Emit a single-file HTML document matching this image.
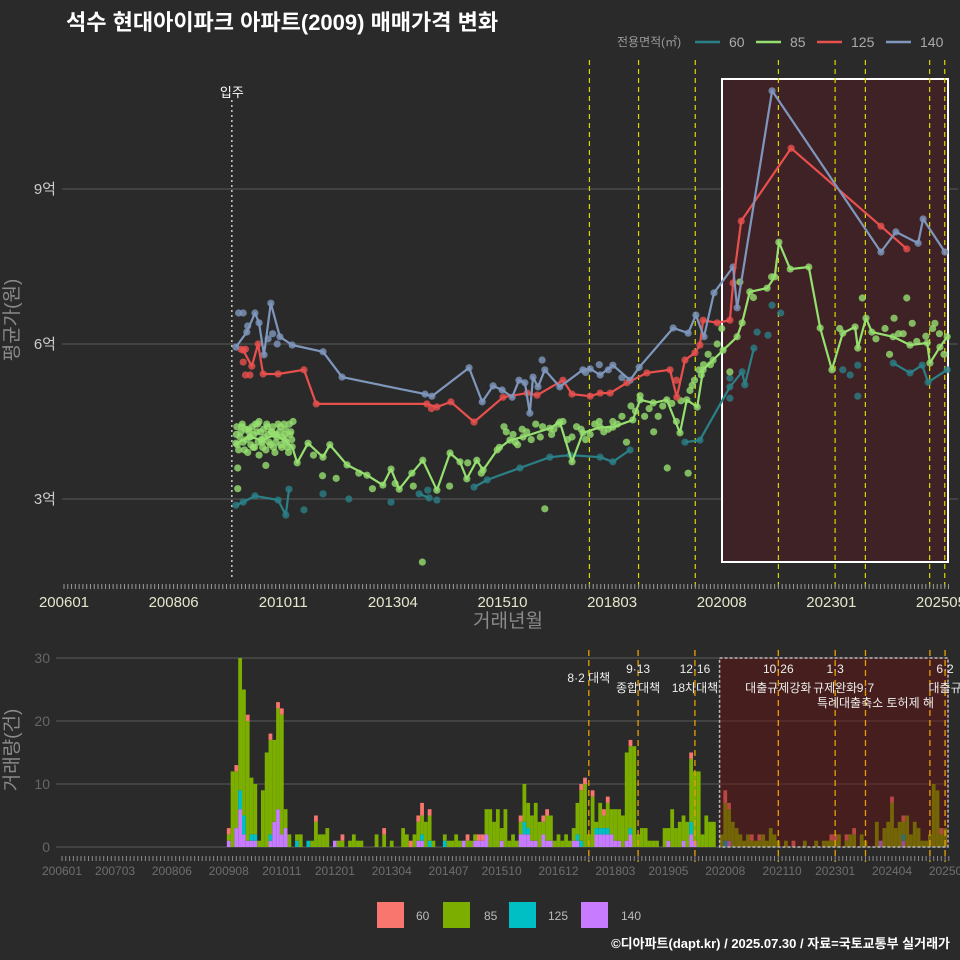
<!DOCTYPE html>
<html><head><meta charset="utf-8">
<style>
html,body{margin:0;padding:0;background:#2a2a2a;}
svg{display:block;font-family:"Liberation Sans","Noto Sans CJK KR",sans-serif;}
</style></head>
<body>
<svg id="c" width="960" height="960" viewBox="0 0 960 960">
<rect x="0" y="0" width="960" height="960" fill="#2a2a2a"/>
<text x="66" y="30" fill="#ffffff" font-size="22" font-weight="bold">석수 현대아이파크 아파트(2009) 매매가격 변화</text>
<g>
<text x="617" y="46" fill="#9a9a9a" font-size="12">전용면적(㎡)</text>
<line x1="695" y1="42" x2="720" y2="42" stroke="#2a8087" stroke-width="2.5"/>
<text x="729" y="47" fill="#aaaaaa" font-size="14">60</text>
<line x1="756" y1="42" x2="781" y2="42" stroke="#96e070" stroke-width="2.5"/>
<text x="790" y="47" fill="#aaaaaa" font-size="14">85</text>
<line x1="817" y1="42" x2="842" y2="42" stroke="#e8504e" stroke-width="2.5"/>
<text x="851" y="47" fill="#aaaaaa" font-size="14">125</text>
<line x1="886" y1="42" x2="911" y2="42" stroke="#7f97bd" stroke-width="2.5"/>
<text x="920" y="47" fill="#aaaaaa" font-size="14">140</text>
</g>
<g id="topG"></g>
<g id="botG"></g>
<g>
<rect x="377" y="902" width="27" height="26" fill="#f8766d"/>
<text x="416" y="920" fill="#bbbbbb" font-size="12">60</text>
<rect x="443" y="902" width="27" height="26" fill="#7cae00"/>
<text x="484" y="920" fill="#bbbbbb" font-size="12">85</text>
<rect x="509" y="902" width="27" height="26" fill="#00bfc4"/>
<text x="548" y="920" fill="#bbbbbb" font-size="12">125</text>
<rect x="581" y="902" width="27" height="26" fill="#c77cff"/>
<text x="621" y="920" fill="#bbbbbb" font-size="12">140</text>
</g>
<text x="950" y="948" text-anchor="end" fill="#ffffff" font-size="13" font-weight="bold">©디아파트(dapt.kr) / 2025.07.30 / 자료=국토교통부 실거래가</text>
</svg>
<script>
// ===== Top chart data (year decimal, price in 억) =====
const line140Years=[2009.79,2010.03,2010.21,2010.30,2010.41,2010.56,2010.76,2011.03,2011.71,2012.13,2013.96,2014.11,2014.93,2015.22,2015.46,2015.66,2015.88,2016.03,2016.16,2016.27,2016.34,2016.45,2016.60,2016.93,2017.44,2017.60,2017.82,2018.10,2018.48,2018.68,2019.43,2019.76,2019.93,2020.11,2020.33,2020.75,2020.84,2021.61,2024.01,2024.34,2024.83,2024.94,2025.42];
const line140Vals=[5.94,6.23,6.60,6.41,5.79,6.79,6.14,5.98,5.85,5.36,5.03,4.99,5.54,4.88,5.19,5.11,4.97,5.30,5.25,4.66,5.36,5.17,5.50,5.17,5.50,5.52,5.40,5.59,5.30,5.55,6.31,6.21,6.56,6.14,6.99,7.49,6.70,10.90,7.78,8.17,7.95,8.42,7.78];
const line125Years=[2009.95,2010.14,2010.28,2010.39,2010.72,2011.29,2011.56,2014.00,2014.22,2014.53,2015.04,2015.68,2016.21,2016.43,2017.00,2017.20,2017.60,2017.82,2018.04,2018.41,2018.85,2019.36,2019.51,2019.69,2019.91,2020.02,2020.09,2020.40,2020.68,2020.75,2020.93,2022.03,2024.01,2024.58];
const line125Vals=[5.88,5.57,6.00,5.42,5.42,5.50,4.84,4.84,4.78,4.88,4.49,4.97,5.05,5.01,5.30,5.03,4.99,5.05,5.05,5.25,5.44,5.50,4.97,5.69,5.83,5.98,6.46,6.41,6.46,7.18,8.38,9.79,8.28,7.84];
const line85Years=[2009.79,2010.10,2010.37,2010.65,2010.87,2011.03,2011.14,2011.38,2011.71,2011.86,2012.24,2012.68,2013.03,2013.21,2013.39,2013.67,2013.91,2014.22,2014.51,2014.73,2014.88,2015.10,2015.24,2015.55,2015.83,2016.12,2016.71,2016.93,2017.20,2017.44,2017.82,2018.10,2018.54,2018.70,2018.99,2019.29,2019.58,2019.73,2019.96,2020.09,2020.31,2020.53,2020.84,2020.95,2021.12,2021.50,2021.67,2021.76,2022.01,2022.42,2022.67,2022.93,2023.17,2023.44,2023.50,2023.68,2023.81,2024.28,2024.65,2025.03,2025.09,2025.31,2025.47];
const line85Vals=[4.08,4.20,4.14,4.24,4.14,4.01,3.70,4.08,3.81,4.05,3.66,3.46,3.27,3.58,3.19,3.50,3.75,3.17,3.89,3.72,3.39,3.75,3.56,3.95,4.14,4.20,4.37,4.49,3.72,4.28,4.39,4.39,4.53,4.92,4.86,4.92,4.28,4.92,4.78,5.50,5.69,5.88,6.14,6.41,7.01,7.08,7.30,7.97,7.45,7.49,6.31,5.50,6.21,6.33,5.92,6.50,6.23,6.14,5.98,6.02,5.63,5.94,6.14];
const line60Years=[2009.79,2009.95,2010.21,2010.72,2010.89,2010.96,null,2013.83,2014.05,null,2015.04,2015.33,2016.05,2016.71,2017.16,2017.82,2018.10,2018.48,null,2019.69,2020.02,2020.68,2020.95,2021.01,2021.21,null,2024.28,2024.65,2024.92,2025.05,2025.47];
const line60Vals=[2.88,2.94,3.06,2.98,2.69,3.19,null,3.10,3.02,null,3.23,3.37,3.60,3.81,3.85,3.81,3.72,3.95,null,4.10,4.14,5.17,5.46,5.21,5.92,null,5.63,5.44,5.59,5.26,5.50];
const extra85Years=[2009.80,2009.85,2009.90,2009.95,2010.00,2010.05,2010.10,2010.15,2010.20,2010.25,2010.30,2010.35,2010.40,2010.45,2010.50,2010.55,2010.60,2010.65,2010.70,2010.75,2010.80,2010.85,2010.90,2010.95,2011.00,2011.05,2010.30,2009.83,2009.83,2010.45,
2009.82,2009.88,2009.92,2009.98,2010.02,2010.08,2010.12,2010.18,2010.22,2010.28,2010.33,2010.38,2010.42,2010.48,2010.52,2010.58,2010.62,2010.68,2010.72,2010.78,2010.82,2010.88,2010.92,2010.98,2011.02,
2009.81,2009.93,2010.07,2010.17,2010.27,2010.37,2010.47,2010.57,2010.67,2010.77,2010.87,2010.97,
2011.50,2011.70,2012.00,2012.50,2012.80,2013.30,2013.90,2013.70,2014.50,2014.90,2015.20,2015.60,2015.70,2015.90,2016.00,2016.20,2016.40,2016.50,2016.60,2016.80,2017.00,2017.20,2017.30,2017.50,2017.70,2017.90,2018.10,2018.30,2018.40,2018.60,2018.70,2018.80,2019.00,2019.20,2019.30,2019.50,2019.60,2019.76,2019.80,2019.90,2020.00,2020.10,2020.20,2020.40,2020.50,2020.68,2020.90,2021.20,2021.60,2023.10,2023.60,2024.30,2024.50,2024.70,2024.20,2025.30,2025.40,2025.20,2024.58,
2015.75,2015.95,2016.10,2016.30,2016.55,2016.75,2016.90,2017.10,2017.40,2017.60,2017.80,2018.00,2018.20,2018.50,2018.90,2019.10,2019.40,2019.85,2020.05,2020.25,2023.90,2024.10,2024.40,2024.80,2025.00,2025.15];
const extra85Vals=[4.25,3.95,4.30,4.10,4.35,3.90,4.20,4.40,4.00,4.30,3.85,4.15,4.35,3.95,4.25,4.05,4.40,3.90,4.20,4.30,4.00,4.45,4.10,3.90,4.30,4.50,4.50,3.60,3.20,3.65,
4.05,4.20,4.40,3.95,4.15,4.30,4.05,4.25,4.45,4.10,4.30,4.00,4.20,4.40,4.10,4.30,4.00,4.25,4.45,4.05,4.20,4.35,4.00,4.25,4.15,
4.40,4.45,4.35,4.00,4.45,4.10,4.45,4.30,4.10,4.40,4.25,4.45,
3.85,3.45,3.40,3.50,3.20,3.30,1.78,3.25,3.25,3.70,3.50,4.00,4.40,4.25,4.05,4.30,4.45,4.20,2.81,4.35,4.50,4.20,4.40,4.15,4.45,4.30,4.50,4.60,4.10,4.70,5.00,4.60,4.30,4.80,3.60,4.50,4.90,3.50,5.10,5.30,5.50,5.60,5.80,6.00,6.30,5.46,7.20,6.90,7.30,6.30,6.89,6.50,6.20,6.40,5.80,6.20,5.80,6.40,6.89,
4.30,4.10,4.35,4.15,4.40,4.25,4.45,4.15,4.35,4.25,4.50,4.35,4.45,4.80,4.75,4.60,4.85,5.20,5.40,5.60,6.10,6.30,6.20,6.05,6.15,6.30];
const extra60Years=[2011.29,2011.71,2012.28,2013.21,2014.02,2014.22,2020.68,2020.68,2021.28,2021.52,2021.61,2021.80,2023.17,2023.33,2023.50,2023.50];
const extra60Vals=[2.79,3.10,3.00,2.94,3.17,2.98,4.95,5.34,6.23,6.17,6.75,6.60,5.50,5.40,5.59,4.99];
const extra140Years=[2009.85,2009.95,2010.05,2010.50,2010.70,2010.60,2016.54,2017.50,2017.80,2018.00,2018.30];
const extra140Vals=[6.60,6.60,6.35,6.10,6.00,6.20,5.69,5.45,5.60,5.50,5.35];
const extra125Years=[2009.90,2010.00,2009.95,2010.00,2010.10,2014.10,2019.50];
const extra125Vals=[5.90,5.90,5.65,5.40,5.40,4.75,5.30];
const yTicks=[3,6,9];
const yTickLabels=["3억","6억","9억"];
const xTickMonths=[0,29,58,87,116,145,174,203,232];
const xTickLabels=["200601","200806","201011","201304","201510","201803","202008","202301","202505"];
const policyMonths=[139,152,167,189,204,212,229,233];
const moveInMonth=44.4;

// ===== Bottom chart data =====
const volStartMonth=44; // 200909
const volTotal=[3,12,13,30,25,21,11,10,1,9,15,18,17,23,22,6,
2,0,2,2,0,1,1,5,2,2,3,0,1,1,2,0,1,2,1,1,0,0,0,2,0,3,0,1,0,0,3,2,1,2,5,7,4,6,1,0,0,2,1,1,2,1,1,2,1,2,1,1,6,6,4,6,3,6,1,2,1,5,10,7,5,7,4,5,6,5,1,
2,1,2,1,3,7,10,11,2,9,4,7,6,8,6,6,6,5,15,17,16,2,3,3,1,1,1,0,3,3,6,3,4,5,4,15,12,12,2,5,4,4,0,2,9,7,4,3,2,1,2,2,1,2,2,1,3,2,1,0,1,0,1,0,0,1,0,0,1,0,1,1,2,2,2,0,2,2,3,0,2,1,0,0,4,1,3,4,8,3,4,5,5,2,4,3,1,1,2,10,9,3,3];
const vol140Months=[44,46,47,48,49,50,51,55,56,57,58,59,72,94,95,106,109,110,111,112,116,121,122,123,124,125,127,128,129,135,136,141,142,143,144,145,146,147,149,150,160,164,166,167,176,216,222];
const vol140Counts=[1,3,6,2,1,1,1,1,4,6,2,3,1,1,1,1,1,1,1,2,1,2,2,2,1,1,2,1,1,1,1,2,2,2,2,2,1,1,1,2,1,1,2,1,1,1,1];
const vol125Months=[47,48,50,51,55,62,65,95,97,101,122,123,136,137,141,142,143,144,150,166,175,222];
const vol125Counts=[3,3,1,1,1,1,1,1,1,1,2,1,1,1,1,1,1,1,1,2,1,1];
const vol60Months=[44,46,49,55,57,58,67,74,85,92,94,95,97,107,110,111,121,127,128,137,138,140,143,144,150,166,175,176,182,184,193,203,204,207,209,219,222,232];
const vol60Counts=[1,1,1,1,1,1,1,1,1,1,1,2,1,1,1,1,1,1,1,1,1,1,1,1,1,1,2,1,1,1,1,1,1,1,1,1,1,1];
const bYTicks=[0,10,20,30];
const bXTickMonths=[0,14,29,44,58,72,87,102,116,131,146,160,175,190,204,219,234];
const bXTickLabels=["200601","200703","200806","200908","201011","201201","201304","201407","201510","201612","201803","201905","202008","202110","202301","202404","202506"];
const annoMonths=[139,152,167,189,204,212,233];
const annoTop=["","9·13","12·16","10·26","1·3","","6·2"];
const annoBottom=["8·2 대책","종합대책","18차대책","대출규제강화","규제완화","9·7","대출규"];

// ===== helpers =====
const NS="http://www.w3.org/2000/svg";
function mk(tag,attrs,parent){const e=document.createElementNS(NS,tag);for(const k in attrs)e.setAttribute(k,attrs[k]);parent.appendChild(e);return e;}
const xT=yr=>64+(yr-2006)*45.36;
const xTm=m=>64+m*3.78;
const yT=v=>344-(v-6)*51.67;
const xB=m=>62+m*3.79;
const yB=n=>847-n*6.3;
const topG=document.getElementById('topG');
const botG=document.getElementById('botG');
const COL={"60":"#2a8087","85":"#96e070","125":"#e8504e","140":"#7f97bd"};

// ---- top chart ----
let el;
el=mk('text',{x:18,y:320,fill:'#8a8a8a','font-size':19,'text-anchor':'middle',transform:'rotate(-90 18 320)'},topG);el.textContent='평균가(원)';


yTicks.forEach((v,i)=>{
  const g=mk('line',{x1:62,x2:958,y1:yT(v),y2:yT(v),stroke:'#5a5a5a','stroke-width':1},topG);
  
  
  const t=mk('text',{x:56,y:yT(v)+5,fill:'#cccccc','font-size':15,'text-anchor':'end'},topG);t.textContent=yTickLabels[i];
  
  
});
el=mk('rect',{x:722,y:79,width:226,height:483,fill:'#3e2226',stroke:'#ffffff','stroke-width':2},topG);


policyMonths.forEach(m=>{
  const l=mk('line',{x1:xTm(m),x2:xTm(m),y1:60,y2:590,stroke:'#d8d800','stroke-width':1.2,'stroke-dasharray':'5,4'},topG);
  
  
});
el=mk('line',{x1:xTm(moveInMonth),x2:xTm(moveInMonth),y1:100,y2:580,stroke:'#cccccc','stroke-width':1.5,'stroke-dasharray':'2,3'},topG);


el=mk('text',{x:xTm(moveInMonth),y:97,fill:'#ffffff','font-size':13,'text-anchor':'middle'},topG);el.textContent='입주';


for(let m=0;m<=234;m++){
  const t=mk('line',{x1:xTm(m),x2:xTm(m),y1:584,y2:589,stroke:'#9a9a9a','stroke-width':1},topG);
  
  
}
xTickMonths.forEach((m,i)=>{
  const t=mk('text',{x:xTm(m),y:607,fill:'#e6e6cc','font-size':15,'text-anchor':'middle'},topG);t.textContent=xTickLabels[i];
  
  
});
el=mk('text',{x:508,y:627,fill:'#8a8a8a','font-size':19,'text-anchor':'middle'},topG);el.textContent='거래년월';



function drawPts(ys,vs,col,name){
  ys.forEach((y,i)=>{ if(y===null)return;
    const c=mk('circle',{cx:xT(y),cy:yT(vs[i]),r:3.6,fill:col,'fill-opacity':0.8},topG);
    
    
  });
}
function drawLine(ys,vs,col,name){
  let d='',pen=false;
  ys.forEach((y,i)=>{ if(y===null){pen=false;return;} d+=(pen?'L':'M')+xT(y).toFixed(1)+' '+yT(vs[i]).toFixed(1)+' '; pen=true;});
  const p=mk('path',{d:d,fill:'none',stroke:col,'stroke-width':2.2,'stroke-linejoin':'round'},topG);
  
  
}
drawPts(extra60Years,extra60Vals,COL["60"],'point-60');
drawPts(extra85Years,extra85Vals,COL["85"],'point-85');
drawPts(line85Years,line85Vals,COL["85"],'point-85');
drawPts(line60Years,line60Vals,COL["60"],'point-60');
drawPts(extra125Years,extra125Vals,COL["125"],'point-125');
drawPts(line125Years,line125Vals,COL["125"],'point-125');
drawPts(extra140Years,extra140Vals,COL["140"],'point-140');
drawPts(line140Years,line140Vals,COL["140"],'point-140');
drawLine(line60Years,line60Vals,COL["60"],'line-60');
drawLine(line85Years,line85Vals,COL["85"],'line-85');
drawLine(line125Years,line125Vals,COL["125"],'line-125');
drawLine(line140Years,line140Vals,COL["140"],'line-140');

// ---- bottom chart ----
el=mk('text',{x:18,y:750,fill:'#8a8a8a','font-size':19,'text-anchor':'middle',transform:'rotate(-90 18 750)'},botG);el.textContent='거래량(건)';


bYTicks.forEach(v=>{
  const g=mk('line',{x1:56,x2:948,y1:yB(v),y2:yB(v),stroke:'#5a5a5a','stroke-width':1},botG);
  
  
  const t=mk('text',{x:50,y:yB(v)+5,fill:'#666666','font-size':14,'text-anchor':'end'},botG);t.textContent=String(v);
  
  
});
function lookup(months,counts,m){const i=months.indexOf(m);return i<0?0:counts[i];}
volTotal.forEach((tot,i)=>{
  const m=volStartMonth+i;
  const a=lookup(vol140Months,vol140Counts,m), b=lookup(vol125Months,vol125Counts,m), d=lookup(vol60Months,vol60Counts,m);
  const g85=Math.max(0,tot-a-b-d);
  const segs=[[a,'#c77cff','bar-140'],[b,'#00bfc4','bar-125'],[g85,'#7cae00','bar-85'],[d,'#f8766d','bar-60']];
  let base=0;
  segs.forEach(s=>{ if(s[0]<=0)return;
    const r=mk('rect',{x:xB(m)-1.9,y:yB(base+s[0]),width:3.79,height:yB(base)-yB(base+s[0]),fill:s[1]},botG);
    
    
    base+=s[0];
  });
});
el=mk('rect',{x:xB(173.5),y:yB(30),width:948-xB(173.5),height:yB(0)-yB(30),fill:'#6a1010','fill-opacity':0.45,stroke:'#bbbbbb','stroke-width':1.5,'stroke-dasharray':'3,2'},botG);


policyMonths.forEach(m=>{
  const l=mk('line',{x1:xB(m),x2:xB(m),y1:650,y2:862,stroke:'#e8a000','stroke-width':1.3,'stroke-dasharray':'6,4'},botG);
  
  
});
annoMonths.forEach((m,i)=>{
  if(annoTop[i]){const t=mk('text',{x:xB(m),y:673,fill:'#eeeeee','font-size':12,'text-anchor':'middle'},botG);t.textContent=annoTop[i];
  
  }
  const t2=mk('text',{x:xB(m),y:i===0?682:692,fill:'#eeeeee','font-size':12,'text-anchor':'middle'},botG);t2.textContent=annoBottom[i];
  
  
});
el=mk('text',{x:xB(212)+10,y:707,fill:'#eeeeee','font-size':12,'text-anchor':'middle'},botG);el.textContent='특례대출축소 토허제 해';


for(let m=0;m<=234;m++){
  const t=mk('line',{x1:xB(m),x2:xB(m),y1:856,y2:861,stroke:'#8a8a8a','stroke-width':1},botG);
  
  
}
bXTickMonths.forEach((m,i)=>{
  const t=mk('text',{x:xB(m),y:875,fill:'#6e6e6e','font-size':12,'text-anchor':'middle'},botG);t.textContent=bXTickLabels[i];
  
  
});
</script>
</body></html>
